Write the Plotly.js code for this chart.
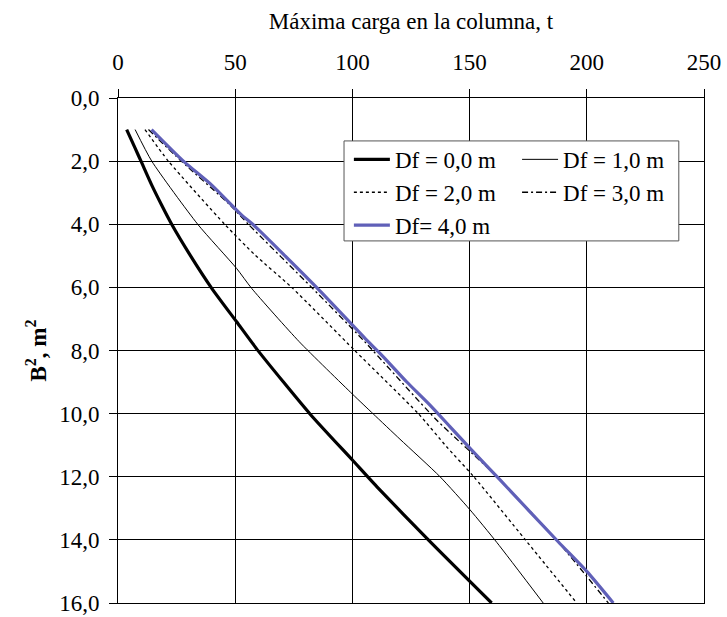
<!DOCTYPE html>
<html>
<head>
<meta charset="utf-8">
<script src="https://cdn.plot.ly/plotly-3.0.1.min.js"></script>
<style>html,body{margin:0;padding:0;background:#fff;}#chart{width:727px;height:617px;}</style>
</head>
<body>
<div id="chart"></div>
<script>
// Df = 0,0 m : B^2 (m^2) and maximum column load (t)
const b2Df0   = [1.0, 1.59, 2.05, 2.76, 3.39, 4.0, 4.97, 6.03, 7.09, 8.02, 10.01, 11.47, 12.36, 14.0, 16.0];
const loadDf0 = [3.7, 7.3, 10.1, 14.4, 18.6, 22.9, 30.7, 40.0, 50.6, 59.9, 81.9, 100.0, 111.0, 132.4, 159.4];
// Df = 1,0 m
const b2Df1   = [1.0, 2.0, 4.0, 5.4, 6.03, 7.72, 9.38, 10.01, 10.81, 12.0, 13.05, 14.08, 16.0];
const loadDf1 = [7.3, 14.4, 34.0, 50.6, 57.0, 77.3, 100.0, 108.9, 120.3, 137.4, 150.2, 161.6, 181.4];
// Df = 2,0 m
const b2Df2   = [1.0, 2.0, 4.0, 4.97, 6.0, 8.0, 10.0, 11.05, 12.0, 14.0, 16.0];
const loadDf2 = [11.5, 21.5, 45.5, 58.4, 74.1, 101.0, 128.1, 140.2, 151.8, 173.8, 195.7];
// Df = 3,0 m
const b2Df3   = [1.0, 2.0, 3.39, 4.0, 6.0, 7.67, 10.2, 12.0, 14.0, 16.0];
const loadDf3 = [13.0, 27.0, 47.8, 55.6, 82.6, 104.6, 135.9, 161.7, 187.0, 209.2];
// Df = 4,0 m
const b2Df4   = [1.0, 2.0, 2.76, 3.71, 4.0, 6.0, 7.67, 8.2, 8.99, 9.73, 10.41, 11.1, 12.1, 14.06, 15.0, 16.0];
const loadDf4 = [14.3, 27.9, 40.0, 52.8, 57.5, 84.7, 106.1, 113.2, 123.1, 133.1, 141.6, 150.2, 163.0, 187.8, 200.0, 211.3];

const seriesNames = ["Df = 0,0 m", "Df = 1,0 m", "Df = 2,0 m", "Df = 3,0 m", "Df= 4,0 m"];
const xTickVals = [0, 50, 100, 150, 200, 250];
const xTickText = ["0", "50", "100", "150", "200", "250"];
const yTickVals = [0, 2, 4, 6, 8, 10, 12, 14, 16];
const yTickText = ["0,0", "2,0", "4,0", "6,0", "8,0", "10,0", "12,0", "14,0", "16,0"];

const FONT = "Liberation Serif, 'Times New Roman', serif";
const FS = 23;
const xs = [loadDf0, loadDf1, loadDf2, loadDf3, loadDf4];
const ys = [b2Df0, b2Df1, b2Df2, b2Df3, b2Df4];
const lineStyles = [
  {color: "#000000", width: 3.2},
  {color: "#000000", width: 1},
  {color: "#000000", width: 1.3, dash: "dot"},
  {color: "#000000", width: 1.3, dash: "6px,3px,2px,3px"},
  {color: "#6060b8", width: 3.2}
];
const legendOf = ["legend", "legend2", "legend", "legend2", "legend"];
const traces = xs.map((xv, i) => ({
  x: xv, y: ys[i], type: "scatter", mode: "lines", name: seriesNames[i],
  legend: legendOf[i],
  line: Object.assign({shape: "spline", smoothing: 0.6}, lineStyles[i])
}));

const legendBase = {
  orientation: "v", yanchor: "top", xanchor: "left",
  bgcolor: "rgba(0,0,0,0)", borderwidth: 0, itemwidth: 36,
  font: {family: FONT, size: FS, color: "#000"}
};

const layout = {
  width: 727, height: 617,
  margin: {l: 118, r: 23, t: 98, b: 14},
  paper_bgcolor: "#fff", plot_bgcolor: "#fff",
  font: {family: FONT, size: FS, color: "#000"},
  showlegend: true,
  legend: Object.assign({x: 0.394, y: 0.921}, legendBase),
  legend2: Object.assign({x: 0.681, y: 0.921}, legendBase),
  shapes: [{
    type: "rect", xref: "paper", yref: "paper",
    x0: 0.3857, x1: 0.957, y0: 0.717, y1: 0.915,
    line: {color: "#555", width: 1}, fillcolor: "#fff", layer: "above"
  }],
  xaxis: {
    side: "top", range: [0, 250], autorange: false,
    tickvals: xTickVals, ticktext: xTickText,
    ticks: "outside", ticklen: 8, tickcolor: "#000", ticklabelstandoff: 10,
    showline: true, linecolor: "#000", linewidth: 1, mirror: true,
    showgrid: true, gridcolor: "#000", gridwidth: 1, zeroline: false,
    tickfont: {family: FONT, size: FS},
    title: {text: "Máxima carga en la columna, t", font: {family: FONT, size: FS}, standoff: 13}
  },
  yaxis: {
    range: [16, 0], autorange: false,
    tickvals: yTickVals, ticktext: yTickText,
    ticks: "outside", ticklen: 8, tickcolor: "#000", ticklabelstandoff: 5,
    showline: true, linecolor: "#000", linewidth: 1, mirror: true,
    showgrid: true, gridcolor: "#000", gridwidth: 1, zeroline: false,
    tickfont: {family: FONT, size: FS},
    title: {text: "<b>B<sup>2</sup>, m<sup>2</sup></b>", font: {family: FONT, size: FS}, standoff: 6}
  }
};
Plotly.newPlot("chart", traces, layout, {displayModeBar: false, staticPlot: true});
</script>
</body>
</html>
